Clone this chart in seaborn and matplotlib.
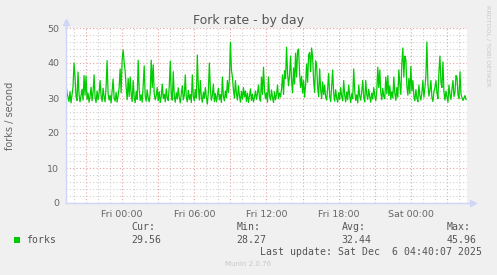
import numpy as np
import pandas as pd
import matplotlib
matplotlib.use("Agg")
import matplotlib.pyplot as plt
import matplotlib.dates as mdates
from matplotlib.ticker import MultipleLocator, FuncFormatter
import seaborn as sns

# ---------------- data (forks / second, 5-minute samples) ----------------
start_time = "2025-12-04 19:20"
step = "5min"
forks = [
    34.0, 31.5, 30.2, 29.0, 31.8, 28.6, 30.9, 33.2, 40.0, 36.1, 30.4, 29.3, 37.4, 31.0, 28.9, 30.7, 32.5, 29.4, 36.4, 30.8,
    36.3, 29.6, 31.4, 28.8, 30.5, 33.1, 29.2, 31.7, 36.6, 30.1, 28.7, 32.0, 29.5, 31.3, 35.0, 30.6, 29.0, 32.8, 30.3, 28.9,
    33.4, 40.7, 31.2, 29.4, 30.8, 28.6, 32.1, 35.4, 30.0, 29.1, 31.6, 28.8, 30.7, 33.0, 38.3, 31.5, 41.0, 43.7, 40.2, 37.7,
    33.0, 29.5, 35.6, 30.4, 36.0, 31.1, 29.0, 35.0, 30.2, 28.7, 31.9, 29.6, 40.8, 32.4, 29.3, 30.9, 28.8, 33.6, 39.2, 30.5,
    29.1, 32.3, 30.0, 28.9, 31.4, 40.8, 33.0, 39.5, 31.2, 29.5, 30.6, 33.0, 29.2, 31.8, 28.7, 30.4, 34.0, 29.8, 31.1, 28.9,
    32.6, 30.0, 29.3, 33.4, 40.5, 31.0, 29.4, 37.5, 30.6, 28.8, 31.5, 29.7, 32.9, 30.2, 28.6, 31.2, 33.5, 29.5, 30.8, 36.6,
    30.1, 28.9, 32.2, 29.6, 31.0, 28.7, 36.6, 30.5, 29.2, 32.4, 30.0, 42.3, 33.1, 29.4, 35.0, 30.3, 28.8, 31.6, 29.9, 33.0,
    30.2, 28.27, 31.7, 40.0, 32.5, 29.3, 30.7, 34.0, 29.0, 31.3, 28.9, 30.6, 32.8, 29.5, 31.0, 28.7, 36.0, 30.4, 29.2, 32.0,
    30.1, 35.0, 31.6, 35.5, 45.96, 38.0, 36.0, 32.3, 30.0, 35.0, 31.2, 29.4, 33.5, 30.6, 28.8, 31.9, 29.7, 33.0, 30.3, 32.0,
    29.0, 31.4, 28.7, 30.5, 32.6, 29.3, 31.1, 28.9, 30.2, 32.0, 29.6, 31.3, 33.7, 30.0, 29.1, 36.0, 31.0, 38.8, 32.2, 29.8,
    31.5, 28.8, 36.0, 30.6, 29.4, 32.3, 30.1, 28.7, 31.8, 29.5, 30.9, 33.7, 29.8, 31.4, 30.3, 32.5, 36.6, 31.0, 37.8, 35.5,
    44.5, 37.0, 33.5, 36.5, 42.0, 35.0, 31.5, 38.6, 34.0, 42.8, 36.0, 43.5, 44.0, 37.0, 33.0, 36.2, 31.4, 35.0, 30.2, 33.8,
    39.7, 34.5, 42.3, 43.0, 37.5, 44.3, 41.7, 35.0, 31.6, 40.6, 39.2, 33.0, 30.4, 38.3, 32.5, 29.8, 34.6, 31.0, 33.7, 30.2,
    29.4, 32.8, 37.0, 30.5, 29.0, 33.2, 38.0, 31.3, 29.1, 32.4, 30.0, 28.8, 31.5, 29.6, 33.0, 30.4, 29.2, 35.0, 30.8, 28.9,
    31.7, 29.5, 33.7, 30.6, 28.7, 31.2, 29.8, 38.3, 32.0, 29.3, 30.9, 28.6, 33.7, 30.5, 29.4, 31.8, 35.0, 30.2, 28.9, 35.0,
    31.0, 29.6, 32.5, 30.3, 28.8, 31.4, 29.7, 33.0, 30.6, 29.2, 31.9, 38.8, 33.0, 38.0, 31.5, 29.5, 32.8, 30.4, 29.8, 36.0,
    31.2, 36.4, 30.7, 33.5, 29.6, 31.8, 30.0, 36.0, 31.4, 29.3, 33.0, 30.2, 38.0, 34.0, 31.0, 40.0, 44.3, 36.0, 42.0, 41.0,
    33.5, 30.8, 35.6, 31.2, 39.0, 32.0, 35.0, 30.5, 29.2, 32.4, 30.0, 28.9, 33.7, 30.6, 29.4, 31.5, 35.0, 30.2, 32.8, 36.5,
    46.0, 34.0, 30.5, 32.2, 35.0, 30.1, 29.0, 31.8, 33.0, 35.0, 31.4, 29.8, 37.5, 42.0, 34.5, 33.0, 40.3, 31.7, 29.4, 32.0,
    30.3, 28.8, 33.7, 30.9, 29.6, 32.5, 35.0, 30.4, 31.6, 36.4, 36.0, 30.8, 29.9, 37.5, 31.2, 30.0, 29.3, 30.0, 30.7, 29.56,
]
series_label = "forks"
y_ticks = [0, 10, 20, 30, 40, 50]
stat_names = ["Cur:", "Min:", "Avg:", "Max:"]
stat_values = ["29.56", "28.27", "32.44", "45.96"]
title = "Fork rate - by day"
ylabel = "forks / second"
last_update = "Last update: Sat Dec  6 04:40:07 2025"
footer = "Munin 2.0.76"
side_text = "RRDTOOL / TOBI OETIKER"

# ---------------- figure ----------------
W, H = 497, 275
BG = "#F0F0F0"
FONT = "#666666"
AXIS = "#CFD6F8"
GREEN = "#00CC00"

times = pd.date_range(start_time, periods=len(forks), freq=step)
df = pd.DataFrame({"time": times, "value": forks})

fig = plt.figure(figsize=(W / 100, H / 100), dpi=100, facecolor=BG)
ax = fig.add_axes([66 / W, 72 / H, 401 / W, 175 / H])
ax.set_facecolor("white")

sns.lineplot(data=df, x="time", y="value", ax=ax, color=GREEN, linewidth=0.9)

t0 = pd.Timestamp(start_time)
ax.set_xlim(t0, t0 + pd.Timedelta(minutes=5 * 400))
ax.set_ylim(0, 50)

# grid
ax.yaxis.set_major_locator(MultipleLocator(10))
ax.yaxis.set_minor_locator(MultipleLocator(2))
ax.xaxis.set_major_locator(mdates.HourLocator(byhour=range(0, 24, 3)))
ax.xaxis.set_minor_locator(mdates.HourLocator())


def xfmt(v, pos):
    d = mdates.num2date(v)
    if d.hour % 6 == 0 and d.minute == 0:
        return d.strftime("%a %H:%M")
    return ""


ax.xaxis.set_major_formatter(FuncFormatter(xfmt))
ax.set_yticks(y_ticks)
ax.grid(which="major", color="#E6A0A0", linestyle=(0, (1, 2)), linewidth=0.8)
ax.grid(which="minor", color="#D0D0D0", linestyle=(0, (1, 2)), linewidth=0.8)
ax.set_axisbelow(True)

for s in ["top", "right"]:
    ax.spines[s].set_visible(False)
for s in ["left", "bottom"]:
    ax.spines[s].set_color(AXIS)
    ax.spines[s].set_linewidth(1.0)

ax.tick_params(which="both", length=0, labelsize=6.8, labelcolor=FONT, pad=5)
ax.set_xlabel("")
ax.set_ylabel("")

# arrows on axes
ax.plot([0, 0], [1.0, 1.03], transform=ax.transAxes, color=AXIS, lw=1.0, clip_on=False)
ax.plot([0], [1.035], transform=ax.transAxes, marker="^", color=AXIS, ms=4, clip_on=False)
ax.plot([1.0, 1.012], [0, 0], transform=ax.transAxes, color=AXIS, lw=1.0, clip_on=False)
ax.plot([1.014], [0], transform=ax.transAxes, marker=">", color=AXIS, ms=4, clip_on=False)


def px(x, y):
    return x / W, 1 - y / H


fig.text(*px(248.5, 24), title, ha="center", va="baseline", fontsize=9, color="#555555")
fig.text(*px(10, 116), ylabel, ha="center", va="center", rotation=90, fontsize=7, color=FONT)
fig.text(*px(488, 5), side_text, ha="center", va="top", rotation=270, fontsize=4.6, color="#C8C8C8")

mono = "DejaVu Sans Mono"
fig.patches.append(plt.Rectangle(px(14, 243), 6 / W, 6 / H, transform=fig.transFigure,
                                 facecolor=GREEN, edgecolor="none"))
fig.text(*px(26.5, 240), series_label, ha="left", va="center", fontsize=7.1, family=mono, color="#555555")
stat_x = [131.5, 236.5, 341.5, 446.5]
for xx, nm, vv in zip(stat_x, stat_names, stat_values):
    fig.text(*px(xx, 227), nm, ha="left", va="center", fontsize=7.1, family=mono, color="#555555")
    fig.text(*px(xx, 240), vv, ha="left", va="center", fontsize=7.1, family=mono, color="#555555")
fig.text(*px(482.5, 252), last_update, ha="right", va="center", fontsize=7.1, family=mono, color="#555555")
fig.text(*px(248, 264), footer, ha="center", va="center", fontsize=5, color="#C8C8C8")

fig.savefig("out.png", dpi=100, facecolor=BG)
